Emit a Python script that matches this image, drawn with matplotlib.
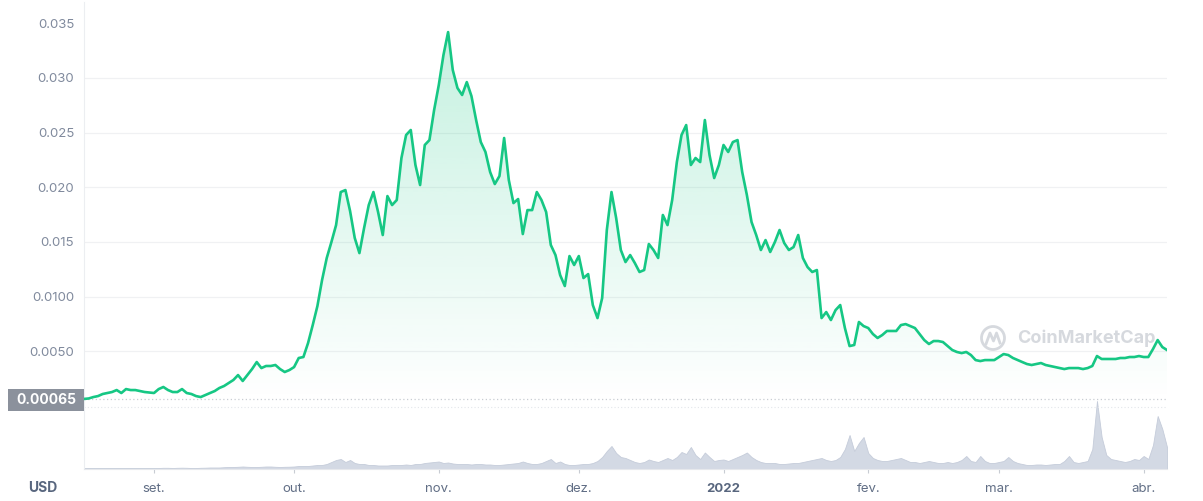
import matplotlib
matplotlib.use("Agg")
import matplotlib.pyplot as plt
import matplotlib.dates as mdates
from matplotlib.path import Path
from matplotlib.patches import Rectangle, Circle
import numpy as np
import pandas as pd

plt.rcParams['font.family'] = ['Inter', 'DejaVu Sans']

# daily close, USD, starting 2021-08-17
start_day = "2021-08-17"
price = [
    0.00065, 0.00069, 0.00082, 0.00091, 0.00110, 0.00119, 0.00128, 0.00146, 0.00119, 0.00155,
    0.00146, 0.00146, 0.00137, 0.00128, 0.00123, 0.00119, 0.00155, 0.00174, 0.00146, 0.00128,
    0.00128, 0.00155, 0.00119, 0.00110, 0.00091, 0.00082, 0.00101, 0.00119, 0.00137, 0.00165,
    0.00183, 0.00210, 0.00238, 0.00283, 0.00229, 0.00283, 0.00338, 0.00402, 0.00347, 0.00366,
    0.00366, 0.00375, 0.00338, 0.00311, 0.00329, 0.00356, 0.00439, 0.00448, 0.00576, 0.00740,
    0.00914, 0.01152, 0.01353, 0.01499, 0.01654, 0.01956, 0.01974, 0.01782, 0.01536, 0.01398,
    0.01627, 0.01837, 0.01956, 0.01773, 0.01563, 0.01919, 0.01837, 0.01883, 0.02267, 0.02477,
    0.02523, 0.02203, 0.02020, 0.02386, 0.02431, 0.02705, 0.02934, 0.03208, 0.03418, 0.03071,
    0.02907, 0.02843, 0.02961, 0.02833, 0.02614, 0.02413, 0.02322, 0.02139, 0.02029, 0.02102,
    0.02450, 0.02066, 0.01855, 0.01892, 0.01572, 0.01791, 0.01791, 0.01956, 0.01883, 0.01773,
    0.01472, 0.01380, 0.01197, 0.01097, 0.01371, 0.01289, 0.01371, 0.01170, 0.01206, 0.00923,
    0.00804, 0.00987, 0.01609, 0.01956, 0.01718, 0.01426, 0.01316, 0.01380, 0.01307, 0.01225,
    0.01243, 0.01481, 0.01426, 0.01353, 0.01746, 0.01654, 0.01883, 0.02230, 0.02477, 0.02568,
    0.02203, 0.02267, 0.02230, 0.02614, 0.02294, 0.02084, 0.02203, 0.02386, 0.02322, 0.02413,
    0.02431, 0.02139, 0.01929, 0.01682, 0.01563, 0.01426, 0.01517, 0.01408, 0.01499, 0.01609,
    0.01490, 0.01426, 0.01453, 0.01563, 0.01353, 0.01270, 0.01225, 0.01243, 0.00804, 0.00859,
    0.00786, 0.00877, 0.00923, 0.00713, 0.00548, 0.00558, 0.00768, 0.00731, 0.00713, 0.00658,
    0.00622, 0.00649, 0.00686, 0.00686, 0.00686, 0.00740, 0.00749, 0.00731, 0.00713, 0.00658,
    0.00603, 0.00567, 0.00594, 0.00594, 0.00585, 0.00548, 0.00512, 0.00494, 0.00484, 0.00494,
    0.00466, 0.00420, 0.00411, 0.00420, 0.00420, 0.00420, 0.00448, 0.00475, 0.00466, 0.00439,
    0.00420, 0.00402, 0.00384, 0.00375, 0.00384, 0.00393, 0.00375, 0.00366, 0.00356, 0.00347,
    0.00338, 0.00347, 0.00347, 0.00347, 0.00338, 0.00347, 0.00366, 0.00457, 0.00430, 0.00430,
    0.00430, 0.00430, 0.00439, 0.00439, 0.00448, 0.00448, 0.00457, 0.00448, 0.00448, 0.00521,
    0.00603, 0.00539, 0.00512,
]

# traded volume, relative units
volume = [
    1, 1, 1, 1, 1, 1, 1, 1, 1, 1, 1, 1, 1, 1, 1,
    1, 1, 1.2, 1.2, 1, 1.2, 1.3, 1.2, 1, 1, 1.2, 1.3, 1.5, 1.5, 1.5, 1.8,
    2, 2, 2.2, 2.5, 2.2, 2, 2, 2.2, 2.5, 2.5, 2.2, 2, 2.2, 2.3,
    2.5, 3, 3, 3, 3.5,
    4, 4, 5, 7, 9, 10, 7, 9, 6, 5, 5,
    4, 4, 3.5, 3.5, 3.5, 4, 4,
    4, 4.5, 4, 5, 5, 6, 6.5, 7, 7.5, 6, 6.5, 5.5, 5,
    5, 5, 4.5, 5, 5, 4.5, 4.5, 4, 4, 4.5, 5, 5.5,
    6, 7.5, 6, 5, 5, 6, 8, 10, 6, 7.5, 5, 4, 4, 4.5, 5, 5,
    6, 8, 12, 18, 23, 16, 12, 11, 9, 7, 6, 7,
    9.5, 8, 7, 9, 11, 9, 12, 17, 15, 22, 14, 10, 16.5, 12, 8, 9, 9.5, 8, 10, 12,
    14, 16.5, 12, 9, 7, 6, 6, 6, 5, 5, 5.5, 6, 6, 7, 8, 9, 10, 11, 9, 8,
    9, 12, 20, 34, 18, 26, 32, 16, 11, 9, 8, 8, 9, 10, 11, 9, 7, 7, 6, 7,
    8, 7, 6, 6, 7, 6, 7, 9, 13, 8, 7, 13, 8, 6, 6, 7, 8, 12, 8, 6,
    5, 4, 4, 4.5, 4.5, 4, 4.5, 5, 5, 8, 13, 7, 6, 7, 8, 20, 68, 32, 14, 10,
    9, 8, 7, 8, 10, 9, 13, 10, 24, 53, 40, 22,
]

open_price = 0.00065
y_ticks = [0.005, 0.010, 0.015, 0.020, 0.025, 0.030, 0.035]
y_labels = ["0.0050", "0.0100", "0.015", "0.020", "0.025", "0.030", "0.035"]
x_ticks = ["2021-09-01", "2021-10-01", "2021-11-01", "2021-12-01",
           "2022-01-01", "2022-02-01", "2022-03-01", "2022-04-01"]
x_labels = ["set.", "out.", "nov.", "dez.", "2022", "fev.", "mar.", "abr."]

dates = pd.date_range(start_day, periods=len(price), freq="D")

W, H = 1203, 501
fig = plt.figure(figsize=(W / 100, H / 100), dpi=100)
green = "#16c784"

ax = fig.add_axes([84 / W, (H - 401) / H, (1167 - 84) / W, 399 / H])
axv = fig.add_axes([84 / W, (H - 469) / H, (1167 - 84) / W, 68 / H])

ylo, yhi = 0.00046, 0.03693
ax.plot(dates, price, color=green, lw=1.9, solid_joinstyle="round", zorder=4)

# gradient fill under the line
xn = mdates.date2num(dates)
verts = np.column_stack([np.r_[xn[0], xn, xn[-1]], np.r_[ylo, price, ylo]])
grad = np.zeros((256, 1, 4))
grad[..., :3] = matplotlib.colors.to_rgb(green)
grad[:, 0, 3] = np.linspace(0.27, 0.0, 256)
im = ax.imshow(grad, extent=[xn[0], xn[-1], ylo, yhi], aspect="auto",
               origin="upper", zorder=1, interpolation="bilinear")
im.set_clip_path(Path(verts), ax.transData)

for v in y_ticks[:-1]:
    ax.axhline(v, color="#f0f1f3", lw=0.9, zorder=0)
ax.axhline(open_price, color="#c9cdd3", lw=0.9, ls=(0, (1, 2)), zorder=2)

ax.set_xlim(dates[0], dates[-1])
ax.set_ylim(ylo, yhi)
ax.set_yticks(y_ticks)
ax.set_yticklabels(y_labels)
ax.tick_params(axis="y", length=0, pad=7, labelsize=9.5, labelcolor="#808a9d")
ax.tick_params(axis="x", bottom=False, labelbottom=False)
for s in ["top", "right", "bottom"]:
    ax.spines[s].set_visible(False)
ax.spines["left"].set_color("#eceef1")

# watermark
tr = fig.dpi_scale_trans
ax.add_patch(Circle((9.93, (H - 338) / 100), 0.115, transform=tr, fill=False,
                    lw=2.0, ec="#d6d9de", zorder=2))
mx = np.array([9.86, 9.90, 9.935, 9.965, 10.00]) 
my = (H - np.array([344, 333, 341, 333, 343])) / 100
ax.plot(mx, my, transform=tr, color="#d6d9de", lw=2.0, zorder=2)
ax.text(10.17, (H - 338) / 100, "CoinMarketCap", transform=tr, fontsize=13,
        fontweight="bold", color="#d6d9de", va="center", ha="left", zorder=2)

# volume
axv.fill_between(dates, volume, 0, color="#d3d9e4", ec="#c5ccda", lw=0.6)
axv.set_xlim(dates[0], dates[-1])
axv.set_ylim(0, 68)
axv.axhline(62, color="#e3e6ea", lw=0.8, ls=(0, (1, 2)))
axv.set_yticks([])
axv.set_xticks(pd.to_datetime(x_ticks))
axv.set_xticklabels(x_labels)
axv.tick_params(axis="x", length=3, width=0.8, color="#c8ccd3", pad=7,
                labelsize=9.5, labelcolor="#616e85")
for lbl in axv.get_xticklabels():
    if lbl.get_text() == "2022":
        lbl.set_fontweight("bold")
        lbl.set_color("#58667e")
axv.spines["top"].set_visible(False)
axv.spines["right"].set_visible(False)
axv.spines["left"].set_color("#eceef1")
axv.spines["bottom"].set_color("#e6e8ec")

# open price badge and currency label
fig.add_artist(Rectangle((0.08, (H - 411) / 100), 0.76, 0.22, transform=tr,
                         fc="#8b919c", ec="none"))
fig.text(0.46, (H - 400) / 100, "0.00065", transform=tr, color="white",
         fontsize=10, fontweight="bold", ha="center", va="center")
fig.text(0.43, (H - 488) / 100, "USD", transform=tr, color="#58667e",
         fontsize=10, fontweight="bold", ha="center", va="center")

fig.savefig("out.png", dpi=100)
